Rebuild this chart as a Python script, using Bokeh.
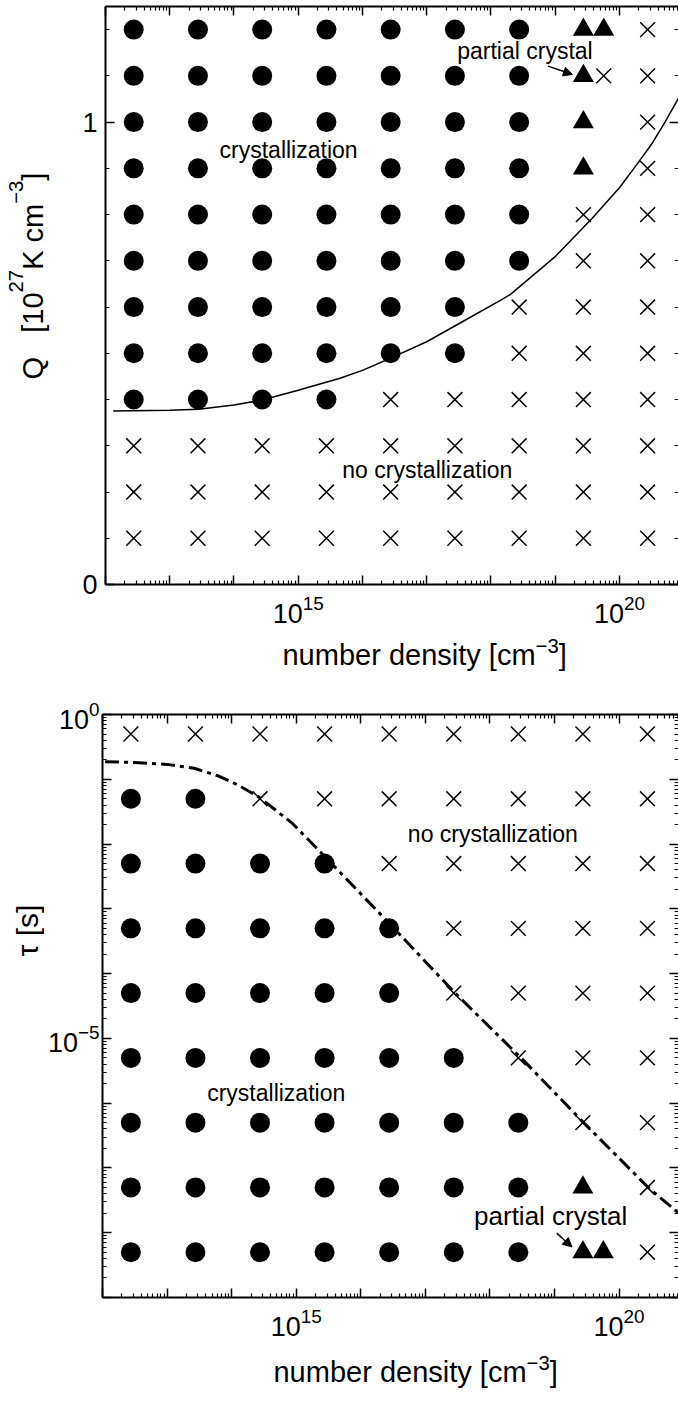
import numpy as np
from bokeh.embed import file_html
from bokeh.layouts import column, row
from bokeh.models import (Arrow, FixedTicker, Label, LinearAxis, LogAxis,
                          NormalHead, Range1d)
from bokeh.plotting import figure
from bokeh.resources import INLINE

FONT = "Liberation Sans"

# ---------------------------------------------------------------- data
# number densities of the simulation grid [cm^-3]
DENSITY = [2.75e12, 2.75e13, 2.75e14, 2.75e15, 2.75e16,
           2.75e17, 2.75e18, 2.75e19, 2.75e20]
EXTRA_DENSITY = 5.7e19

# upper panel: Q [10^27 K cm^-3]; outcome per row, one letter per density
# c = crystallization, p = partial crystal, x = no crystallization
Q_LEVELS = [1.2, 1.1, 1.0, 0.9, 0.8, 0.7, 0.6, 0.5, 0.4, 0.3, 0.2, 0.1]
Q_OUTCOME = ["cccccccpx", "cccccccpx", "cccccccpx", "cccccccpx",
             "cccccccxx", "cccccccxx", "ccccccxxx", "ccccccxxx",
             "ccccxxxxx", "xxxxxxxxx", "xxxxxxxxx", "xxxxxxxxx"]
Q_EXTRA_PARTIAL = [1.2]
Q_EXTRA_NONE = [1.1]

# upper panel boundary (log10 n, Q)
Q_CURVE_LOG_N = [12.12, 13.0, 13.45, 14.0, 14.44, 15.0, 15.65, 16.0, 16.43,
                 17.0, 17.68, 18.14, 18.3, 19.0, 19.57, 20.0, 20.27, 20.5,
                 20.71, 20.92]
Q_CURVE = [0.375, 0.377, 0.379, 0.388, 0.399, 0.420, 0.446, 0.463, 0.489,
           0.525, 0.578, 0.614, 0.627, 0.709, 0.791, 0.858, 0.908, 0.952,
           1.000, 1.052]

# lower panel: tau [s]
TAU_LEVELS = [5e-1, 5e-2, 5e-3, 5e-4, 5e-5, 5e-6, 5e-7, 5e-8, 5e-9]
TAU_OUTCOME = ["xxxxxxxxx", "ccxxxxxxx", "ccccxxxxx", "cccccxxxx",
               "cccccxxxx", "ccccccxxx", "cccccccxx", "cccccccpx",
               "cccccccpx"]
TAU_EXTRA_PARTIAL = [5e-9]

# lower panel boundary (log10 n, log10 tau)
TAU_CURVE_LOG_N = [12.04, 12.5, 13.0, 13.42, 13.8, 14.1, 14.43, 14.94, 15.4,
                   16.37, 17.46, 18.5, 19.47, 20.46, 20.94]
TAU_CURVE_LOG = [-0.73, -0.74, -0.77, -0.83, -0.95, -1.09, -1.28, -1.68,
                 -2.15, -3.15, -4.30, -5.32, -6.32, -7.31, -7.71]

# axis ticks
X_MAJOR = [10.0 ** k for k in range(12, 22)]
X_MINOR = [m * 10.0 ** k for k in range(12, 21) for m in range(2, 10)]
X_LABELLED = [1e15, 1e20]
Q_MAJOR = [0.0, 1.0]
Q_MINOR = [round(0.1 * i, 1) for i in range(0, 13)]
TAU_MAJOR = [10.0 ** k for k in range(-9, 1)]
TAU_MINOR = [m * 10.0 ** k for k in range(-9, 0) for m in range(2, 10)]
TAU_LABELLED = [1e0, 1e-5]

X_RANGE = (1e12, 10 ** 20.92)

# Arial / Liberation Sans advance widths (1/1000 em)
ADV = {" ": 278, "[": 278, "]": 278, "Q": 778, "K": 667,
       "b": 556, "c": 500, "d": 556, "e": 556, "i": 222, "m": 833, "n": 556,
       "r": 333, "s": 500, "t": 278, "u": 556, "y": 500, "\u2212": 584}
ADV.update({d: 556 for d in "0123456789"})
MID = 0.35  # middle of the text box above the baseline, in em


def text_width(s, size):
    return sum(ADV[ch] for ch in s) * size / 1000.0


def make_fig(y_type, y_range, width, height, left, top, bottom):
    p = figure(width=width, height=height, x_axis_type="log", y_axis_type=y_type,
               x_range=Range1d(*X_RANGE), y_range=Range1d(*y_range),
               output_backend="svg", toolbar_location=None, title=None,
               min_border_left=left, min_border_right=0,
               min_border_top=top, min_border_bottom=bottom,
               outline_line_color=None, background_fill_color="white",
               border_fill_color="white")
    p.xgrid.visible = False
    p.ygrid.visible = False
    return p


def text_panel(width, height, top=0, bottom=0):
    """Blank strip for axis titles; data y equals pixels up from its bottom.

    Its borders copy those of the neighbouring plot, so the frames line up.
    """
    p = figure(width=width, height=height, x_range=Range1d(0, width),
               y_range=Range1d(bottom, height - top), x_axis_type=None,
               y_axis_type=None, output_backend="svg", toolbar_location=None,
               title=None, min_border_left=0, min_border_right=0,
               min_border_top=top, min_border_bottom=bottom,
               outline_line_color=None, background_fill_color="white",
               border_fill_color="white")
    return p


def style_axis(ax, ticks, minor, labelled=None, standoff=10, line=True):
    ax.ticker = FixedTicker(ticks=ticks, minor_ticks=minor)
    ax.axis_line_width = 2
    ax.axis_line_color = "black" if line else None
    ax.major_tick_in = 9
    ax.major_tick_out = 0
    ax.minor_tick_in = 4
    ax.minor_tick_out = 0
    ax.major_tick_line_width = 1.5
    ax.minor_tick_line_width = 1.2
    ax.major_tick_line_color = "black"
    ax.minor_tick_line_color = "black"
    if labelled is None:
        ax.major_label_text_font_size = "1px"
        ax.major_label_text_color = None
        ax.major_label_standoff = 0
    else:
        ax.major_label_text_font = FONT
        ax.major_label_text_font_size = "27px"
        ax.major_label_text_color = "black"
        ax.major_label_standoff = standoff
        hidden = {t: " " for t in ticks if t not in labelled}
        if hidden:
            ax.major_label_overrides = hidden


def grid_points(levels, outcome, code):
    xs, ys = [], []
    for lvl, line in zip(levels, outcome):
        for n, c in zip(DENSITY, line):
            if c == code:
                xs.append(n)
                ys.append(lvl)
    return xs, ys


def draw_grid(p, levels, outcome, extra_partial, extra_none):
    xs, ys = grid_points(levels, outcome, "c")
    p.scatter(xs, ys, marker="circle", size=20, fill_color="black", line_color=None)
    xs, ys = grid_points(levels, outcome, "x")
    xs += [EXTRA_DENSITY] * len(extra_none)
    ys += list(extra_none)
    p.scatter(xs, ys, marker="x", size=21, line_color="black", line_width=1.5)
    xs, ys = grid_points(levels, outcome, "p")
    xs += [EXTRA_DENSITY] * len(extra_partial)
    ys += list(extra_partial)
    p.scatter(xs, ys, marker="triangle", size=21, fill_color="black", line_color=None)


def note(p, x, y, text, size):
    p.add_layout(Label(x=x, y=y, text=text, text_font=FONT,
                       text_font_size=f"{size}px", text_align="center",
                       text_baseline="middle", text_color="black"))


def compose(p, x, y, pieces, size, vertical=False):
    """Title from pieces (text, scale, lift); (x, y) is the baseline start.

    Every piece is centred on its own anchor, so rotated pieces line up too;
    blank pieces only advance the pen.
    """
    pos = 0.0
    for text, scale, lift in pieces:
        fs = size * scale
        w = text_width(text, fs)
        if text.strip():
            up = lift + MID * fs
            if vertical:
                px, py, ang = x - up, y + pos + w / 2, np.pi / 2
            else:
                px, py, ang = x + pos + w / 2, y + up, 0.0
            p.add_layout(Label(x=px, y=py, text=text, angle=ang, text_font=FONT,
                               text_font_size=f"{fs:.1f}px", text_align="center",
                               text_baseline="middle", text_color="black"))
        pos += w


X_TITLE = [("number density [cm", 1.0, 0), ("\u22123", 0.7, 12), ("]", 1.0, 0)]
Q_TITLE = [("Q", 1.0, 0), ("   ", 1.0, 0), ("[10", 1.0, 0), ("27", 0.7, 20),
           ("K cm", 1.0, 0), ("\u22123", 0.7, 20), ("]", 1.0, 0)]

# ---------------------------------------------------------------- upper panel
top = make_fig("linear", (0.0, 1.25), 628, 636, 55, 6, 52)
style_axis(top.xaxis[0], X_MAJOR, X_MINOR, X_LABELLED, standoff=10)
style_axis(top.yaxis[0], Q_MAJOR, Q_MINOR, Q_MAJOR, standoff=8)
ax = LogAxis()
style_axis(ax, X_MAJOR, X_MINOR)
top.add_layout(ax, "above")
ax = LinearAxis()
style_axis(ax, Q_MAJOR, Q_MINOR, line=False)
top.add_layout(ax, "right")

draw_grid(top, Q_LEVELS, Q_OUTCOME, Q_EXTRA_PARTIAL, Q_EXTRA_NONE)
top.line([10.0 ** v for v in Q_CURVE_LOG_N], Q_CURVE, line_color="black", line_width=1.5)

note(top, 10 ** 14.85, 0.94, "crystallization", 23)
note(top, 10 ** 17.01, 0.248, "no crystallization", 23)
note(top, 10 ** 18.53, 1.153, "partial crystal", 23)
top.add_layout(Arrow(end=NormalHead(size=9, fill_color="black", line_color="black", line_width=1),
                     x_start=10 ** 18.89, y_start=1.121, x_end=10 ** 19.27, y_end=1.103,
                     line_color="black", line_width=1.5))

top_ylab = text_panel(50, 636, top=6, bottom=52)
compose(top_ylab, 43, 636 - 379, Q_TITLE, 29, vertical=True)
top_xlab = text_panel(678, 54)
compose(top_xlab, 282, 25, X_TITLE, 29)

# ---------------------------------------------------------------- lower panel
bot = make_fig("log", (1e-9, 1e0), 634, 659, 57, 24, 52)
style_axis(bot.xaxis[0], X_MAJOR, X_MINOR, X_LABELLED, standoff=10)
style_axis(bot.yaxis[0], TAU_MAJOR, TAU_MINOR, TAU_LABELLED, standoff=3)
ax = LogAxis()
style_axis(ax, X_MAJOR, X_MINOR)
bot.add_layout(ax, "above")
ax = LogAxis()
style_axis(ax, TAU_MAJOR, TAU_MINOR, line=False)
bot.add_layout(ax, "right")

draw_grid(bot, TAU_LEVELS, TAU_OUTCOME, TAU_EXTRA_PARTIAL, [])
bot.line([10.0 ** v for v in TAU_CURVE_LOG_N], [10.0 ** v for v in TAU_CURVE_LOG],
         line_color="black", line_width=3, line_dash="14 5 4 5")

note(bot, 10 ** 18.045, 10 ** -1.84, "no crystallization", 23)
note(bot, 10 ** 14.69, 10 ** -5.84, "crystallization", 23)
note(bot, 10 ** 18.94, 10 ** -7.74, "partial crystal", 26)
bot.add_layout(Arrow(end=NormalHead(size=9, fill_color="black", line_color="black", line_width=1),
                     x_start=10 ** 19.035, y_start=10 ** -8.006,
                     x_end=10 ** 19.27, y_end=10 ** -8.22,
                     line_color="black", line_width=1.5))

bot_ylab = text_panel(44, 659, top=24, bottom=52)
bot_ylab.add_layout(Label(x=37 - MID * 30, y=659 - (930 - 690), text="\u03c4 [s]",
                          angle=np.pi / 2, text_font=FONT, text_font_size="30px",
                          text_align="center", text_baseline="middle",
                          text_color="black"))
bot_xlab = text_panel(678, 53)
compose(bot_xlab, 273, 20, X_TITLE, 29)

layout = column(row(top_ylab, top, spacing=0), top_xlab,
                row(bot_ylab, bot, spacing=0), bot_xlab, spacing=0)
open("out.html", "w").write(file_html(layout, INLINE, title="crystallization map"))
